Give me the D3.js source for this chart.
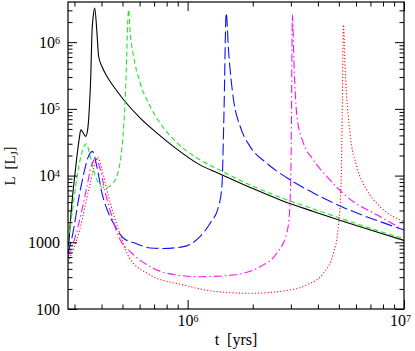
<!DOCTYPE html>
<html>
<head>
<meta charset="utf-8">
<script src="https://cdn.jsdelivr.net/npm/d3@7"></script>
<style>
  body { margin: 0; background: #fff; }
  svg text { font-family: "Liberation Serif", "DejaVu Serif", serif; fill: #000; }
</style>
</head>
<body>
<svg></svg>
<script>
// time axis ticks (yrs) and luminosity ticks (L_J)
var tMajor = [1e6, 1e7];
var tMinor = [3e5, 4e5, 5e5, 6e5, 7e5, 8e5, 9e5, 2e6, 3e6, 4e6, 5e6, 6e6, 7e6, 8e6, 9e6];
var tLabels = ['10^6', '10^7'];
var lMajor = [100, 1000, 1e4, 1e5, 1e6];
var lMinor = [200, 300, 400, 500, 600, 700, 800, 900,
  2000, 3000, 4000, 5000, 6000, 7000, 8000, 9000,
  2e4, 3e4, 4e4, 5e4, 6e4, 7e4, 8e4, 9e4,
  2e5, 3e5, 4e5, 5e5, 6e5, 7e5, 8e5, 9e5, 2e6, 3e6];
var lLabels = ['100', '1000', '10^4', '10^5', '10^6'];

// solid black
var blackT = [2.82e5, 2.90e5, 3.03e5, 3.15e5, 3.21e5, 3.38e5, 3.46e5, 3.51e5, 3.57e5, 3.61e5, 3.67e5,
  3.72e5, 3.81e5, 3.88e5, 4.02e5, 4.24e5, 4.55e5, 5.06e5, 6.04e5, 7.22e5, 8.61e5, 1.14e6, 1.37e6,
  1.945e6, 2.68e6, 3.81e6, 5.44e6, 7.75e6, 1e7];
var blackL = [912, 3060, 1.22e4, 3.43e4, 4.85e4, 3.87e4, 5.19e4, 9.68e4, 3.24e5, 1.29e6, 2.58e6,
  3.25e6, 1.38e6, 6.10e5, 4.32e5, 3.06e5, 2.16e5, 1.37e5, 7.26e4, 4.33e4, 2.72e4, 1.447e4, 1.098e4,
  6650, 4320, 2900, 1985, 1380, 1066];

// short-dashed green
var greenT = [2.8e5, 2.95e5, 3.12e5, 3.40e5, 3.55e5, 3.75e5, 4.12e5, 4.49e5, 4.78e5, 4.96e5, 5.07e5,
  5.17e5, 5.23e5, 5.28e5, 5.34e5, 5.43e5, 5.63e5, 6.04e5, 6.72e5, 7.74e5, 8.93e5, 1.104e6, 1.37e6,
  1.945e6, 2.68e6, 3.81e6, 5.44e6, 7.75e6, 1e7];
var greenL = [1020, 3430, 1.22e4, 2.99e4, 1.93e4, 9660, 6540, 7510, 1.15e4, 2.43e4, 5.76e4,
  1.93e5, 6.47e5, 1.82e6, 3.06e6, 1.38e6, 6.10e5, 2.43e5, 1.085e5, 5.19e4, 3.10e4, 1.84e4, 1.26e4,
  7250, 4710, 3160, 2130, 1455, 1140];

// long-dashed blue
var blueT = [2.8e5, 2.95e5, 3.13e5, 3.30e5, 3.46e5, 3.63e5, 3.81e5, 4.02e5, 4.31e5, 4.63e5, 5.06e5,
  5.73e5, 6.72e5, 7.74e5, 9.57e5, 1.14e6, 1.27e6, 1.39e6, 1.44e6, 1.47e6, 1.508e6, 1.545e6, 1.63e6,
  1.75e6, 1.945e6, 2.32e6, 2.98e6, 3.81e6, 5.44e6, 7.75e6, 1e7];
var blueL = [685, 1370, 4320, 1.02e4, 1.84e4, 2.31e4, 1.35e4, 5440, 2730, 1720, 1150,
  968, 823, 809, 860, 1215, 1930, 3430, 6840, 6.85e4, 2.73e6, 7.69e5, 1.37e5,
  5.44e4, 2.72e4, 1.535e4, 8620, 5500, 3165, 2040, 1530];

// dash-dot magenta
var magentaT = [2.8e5, 3.06e5, 3.40e5, 3.59e5, 3.77e5, 3.95e5, 4.17e5, 4.47e5, 4.80e5, 5.53e5, 6.72e5,
  8.03e5, 1.14e6, 1.63e6, 2.16e6, 2.58e6, 2.87e6, 2.95e6, 3.01e6, 3.05e6, 3.105e6, 3.20e6, 3.43e6,
  3.81e6, 4.55e6, 5.44e6, 7.75e6, 1e7];
var magentaL = [609, 1370, 6100, 1.40e4, 1.82e4, 1.22e4, 5440, 2430, 1215, 685, 431,
  343, 305, 324, 431, 685, 1370, 2430, 2.43e4, 2.58e6, 4.32e5, 7.68e4, 3.06e4,
  1.72e4, 8620, 4840, 2430, 1530];

// dotted red
var redT = [2.8e5, 3.17e5, 3.52e5, 3.85e5, 4.02e5, 4.31e5, 4.63e5, 4.98e5, 5.34e5, 6.72e5, 9.57e5,
  1.37e6, 1.945e6, 2.98e6, 3.55e6, 4.24e6, 4.72e6, 4.97e6, 5.12e6, 5.19e6, 5.25e6, 5.34e6, 5.63e6,
  6.05e6, 6.73e6, 7.75e6, 1e7];
var redL = [513, 1530, 6840, 1.87e4, 1.22e4, 4840, 2160, 1085, 609, 324, 229,
  182, 172, 193, 229, 343, 685, 1720, 7770, 1.37e5, 1.82e6, 4.32e5, 4.33e4,
  1.365e4, 6100, 3430, 2040];

var series = [
  {t: blackT, l: blackL, color: '#000', dash: null},
  {t: greenT, l: greenL, color: '#1fe81f', dash: '5,3'},
  {t: blueT, l: blueL, color: '#1010ff', dash: '12,4'},
  {t: magentaT, l: magentaL, color: '#ff10ff', dash: '8,3,1.5,3'},
  {t: redT, l: redL, color: '#ff1010', dash: '1.2,2'}
];

var width = 415, height = 351;
var margin = {top: 2, right: 11, bottom: 42, left: 68};

var x = d3.scaleLog()
  .domain([2.8e5, 1e7])
  .range([margin.left, width - margin.right]);

var y = d3.scaleLog()
  .domain([100, 4e6])
  .range([height - margin.bottom, margin.top]);

var svg = d3.select('svg')
  .attr('width', width)
  .attr('height', height);

svg.append('defs').append('clipPath')
  .attr('id', 'plot')
  .append('rect')
  .attr('x', margin.left)
  .attr('y', margin.top)
  .attr('width', width - margin.left - margin.right)
  .attr('height', height - margin.top - margin.bottom);

var line = d3.line()
  .x(d => x(d[0]))
  .y(d => y(d[1]))
  .curve(d3.curveMonotoneX);

svg.append('g')
  .attr('clip-path', 'url(#plot)')
  .selectAll('path')
  .data(series)
  .enter()
  .append('path')
  .attr('d', s => line(d3.zip(s.t, s.l)))
  .attr('fill', 'none')
  .attr('stroke', s => s.color)
  .attr('stroke-width', 1.1)
  .attr('stroke-dasharray', s => s.dash);

// put "10^n" into a text node as a number with a raised exponent
function writeLabel(sel, str) {
  var parts = str.split('^');
  sel.text(parts[0]);
  if (parts.length > 1) {
    sel.append('tspan')
      .attr('dy', '-0.42em')
      .style('font-size', '10px')
      .text(parts[1]);
  }
}

function drawAxis(axis, tx, ty, labels) {
  var g = svg.append('g')
    .attr('transform', 'translate(' + tx + ',' + ty + ')')
    .call(axis);
  g.select('.domain').remove();
  g.selectAll('line').attr('stroke', '#000');
  g.selectAll('text')
    .style('font-size', '16px')
    .each(function(d, i) {
      if (labels) writeLabel(d3.select(this), labels[i]);
    });
  return g;
}

var none = () => '';
var bottom = height - margin.bottom, right = width - margin.right;

// majors with labels, minors without, on all four sides
drawAxis(d3.axisBottom(x).tickValues(tMajor).tickSize(-9).tickPadding(6).tickFormat(none), 0, bottom, tLabels)
  .selectAll('text')
  .attr('dx', d => d === 1e7 ? -4 : 0);
drawAxis(d3.axisBottom(x).tickValues(tMinor).tickSize(-4.5).tickFormat(none), 0, bottom);
drawAxis(d3.axisTop(x).tickValues(tMajor).tickSize(-9).tickFormat(none), 0, margin.top);
drawAxis(d3.axisTop(x).tickValues(tMinor).tickSize(-4.5).tickFormat(none), 0, margin.top);

drawAxis(d3.axisLeft(y).tickValues(lMajor).tickSize(-9).tickPadding(8).tickFormat(none), margin.left, 0, lLabels);
drawAxis(d3.axisLeft(y).tickValues(lMinor).tickSize(-4.5).tickFormat(none), margin.left, 0);
drawAxis(d3.axisRight(y).tickValues(lMajor).tickSize(-9).tickFormat(none), right, 0);
drawAxis(d3.axisRight(y).tickValues(lMinor).tickSize(-4.5).tickFormat(none), right, 0);

svg.append('rect')
  .attr('x', margin.left)
  .attr('y', margin.top)
  .attr('width', right - margin.left)
  .attr('height', bottom - margin.top)
  .attr('fill', 'none')
  .attr('stroke', '#000')
  .attr('stroke-width', 1.2);

svg.append('text')
  .attr('x', (margin.left + right) / 2)
  .attr('y', 345)
  .attr('text-anchor', 'middle')
  .style('font-size', '16px')
  .attr('xml:space', 'preserve')
  .text('t  [yrs]');

var ylab = svg.append('text')
  .attr('transform', 'translate(15,166) rotate(-90)')
  .attr('text-anchor', 'middle')
  .style('font-size', '15px')
  .attr('xml:space', 'preserve')
  .text('L  [L');
ylab.append('tspan').attr('dy', '0.3em').style('font-size', '10px').text('J');
ylab.append('tspan').attr('dy', '-0.3em').text(']');
</script>
</body>
</html>
